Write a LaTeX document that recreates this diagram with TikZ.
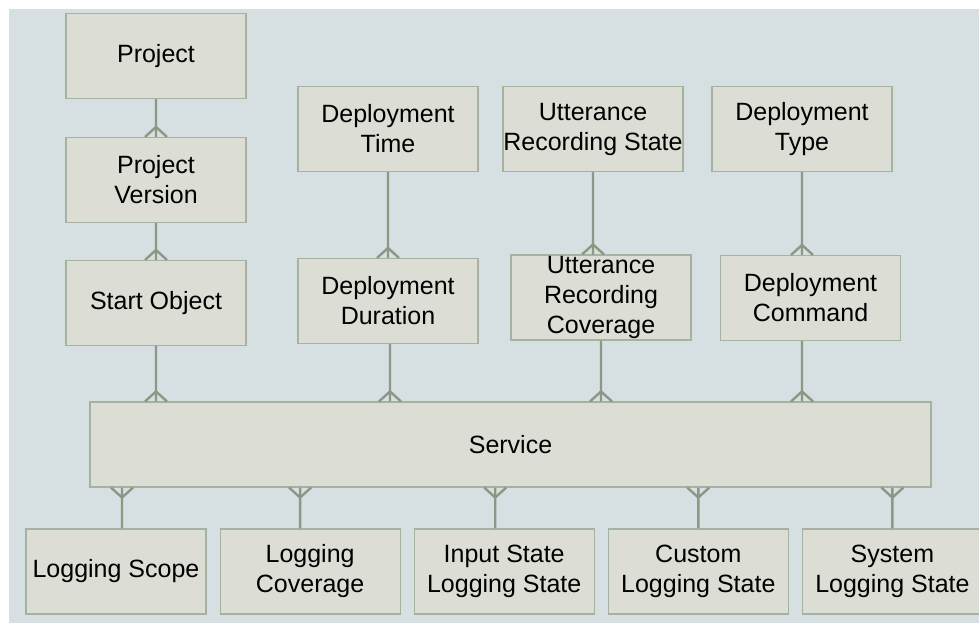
\documentclass[tikz,border=0pt]{standalone}
\usepackage{fontspec}
\setmainfont{Liberation Sans}
\usepackage{tikz}
\usetikzlibrary{positioning,calc}
\definecolor{erback}{HTML}{D6E0E2}
\definecolor{erfill}{HTML}{DCDED5}
\definecolor{erframe}{HTML}{A6B2A0}
\definecolor{erline}{HTML}{8C9884}

\begin{document}
\begin{tikzpicture}[
  x=1pt, y=-1pt,
  entity/.style={rectangle, draw=erframe, fill=erfill, line width=1.1pt,
                 minimum width=180pt, minimum height=85pt, align=center,
                 inner sep=0pt, font=\fontsize{25}{30}\selectfont},
  link/.style={draw=erline, line width=2.4pt},
  % many-side foot sits at the start of the path
  crow/.style={link, to path={(\tikztostart) -- (\tikztotarget)
      ($(\tikztostart)!10pt!(\tikztotarget)$) -- ($(\tikztostart)!11pt!90:(\tikztotarget)$)
      ($(\tikztostart)!10pt!(\tikztotarget)$) -- ($(\tikztostart)!11pt!-90:(\tikztotarget)$)}}
]
\useasboundingbox (0,0) rectangle (979,625);
\fill[erback] (9,9) rectangle (979,623);

% left column
\node[entity] (proj) at (156,56) {Project};
\node[entity] (pver) at (156,180) {Project\\Version};
\node[entity] (sobj) at (156,303) {Start Object};

% upper rows
\node[entity] (dtime) at (388,129) {Deployment\\Time};
\node[entity] (ddur) at (388,301) {Deployment\\Duration};
\node[entity] (urstate) at (593,129) {Utterance\\Recording State};
\node[entity] (urcov) at (601,297.5) {Utterance\\Recording\\Coverage};
\node[entity] (dtype) at (802,129) {Deployment\\Type};
\node[entity] (dcmd) at (810.5,298) {Deployment\\Command};

\node[entity, minimum width=841pt] (svc) at (510.5,444.5) {Service};

% bottom row
\node[entity] (lscope) at (116,571.5) {Logging Scope};
\node[entity, right=13pt of lscope] (lcov) {Logging\\Coverage};
\node[entity, right=13pt of lcov] (instate) {Input State\\Logging State};
\node[entity, right=13pt of instate] (custom) {Custom\\Logging State};
\node[entity, right=13pt of custom] (system) {System\\Logging State};

% one-to-many links
\draw[crow] (pver.north) to (proj.south);
\draw[crow] (sobj.north) to (pver.south);
\draw[crow] (sobj.south |- svc.north) to (sobj.south);
\draw[crow] (ddur.north) to (dtime.south);
\draw[crow] ([xshift=2pt]ddur.south |- svc.north) to ([xshift=2pt]ddur.south);
\draw[crow] (urstate.south |- urcov.north) to (urstate.south);
\draw[crow] (urcov.south |- svc.north) to (urcov.south);
\draw[crow] (dtype.south |- dcmd.north) to (dtype.south);
\draw[crow] (dtype.south |- svc.north) to (dtype.south |- dcmd.south);

\draw[crow] ([xshift=6pt]lscope.north |- svc.south) to ([xshift=6pt]lscope.north);
\draw[crow] ([xshift=-10pt]lcov.north |- svc.south) to ([xshift=-10pt]lcov.north);
\draw[crow] ([xshift=-9pt]instate.north |- svc.south) to ([xshift=-9pt]instate.north);
\draw[crow] (custom.north |- svc.south) to (custom.north);
\draw[crow] (system.north |- svc.south) to (system.north);
\end{tikzpicture}
\end{document}
